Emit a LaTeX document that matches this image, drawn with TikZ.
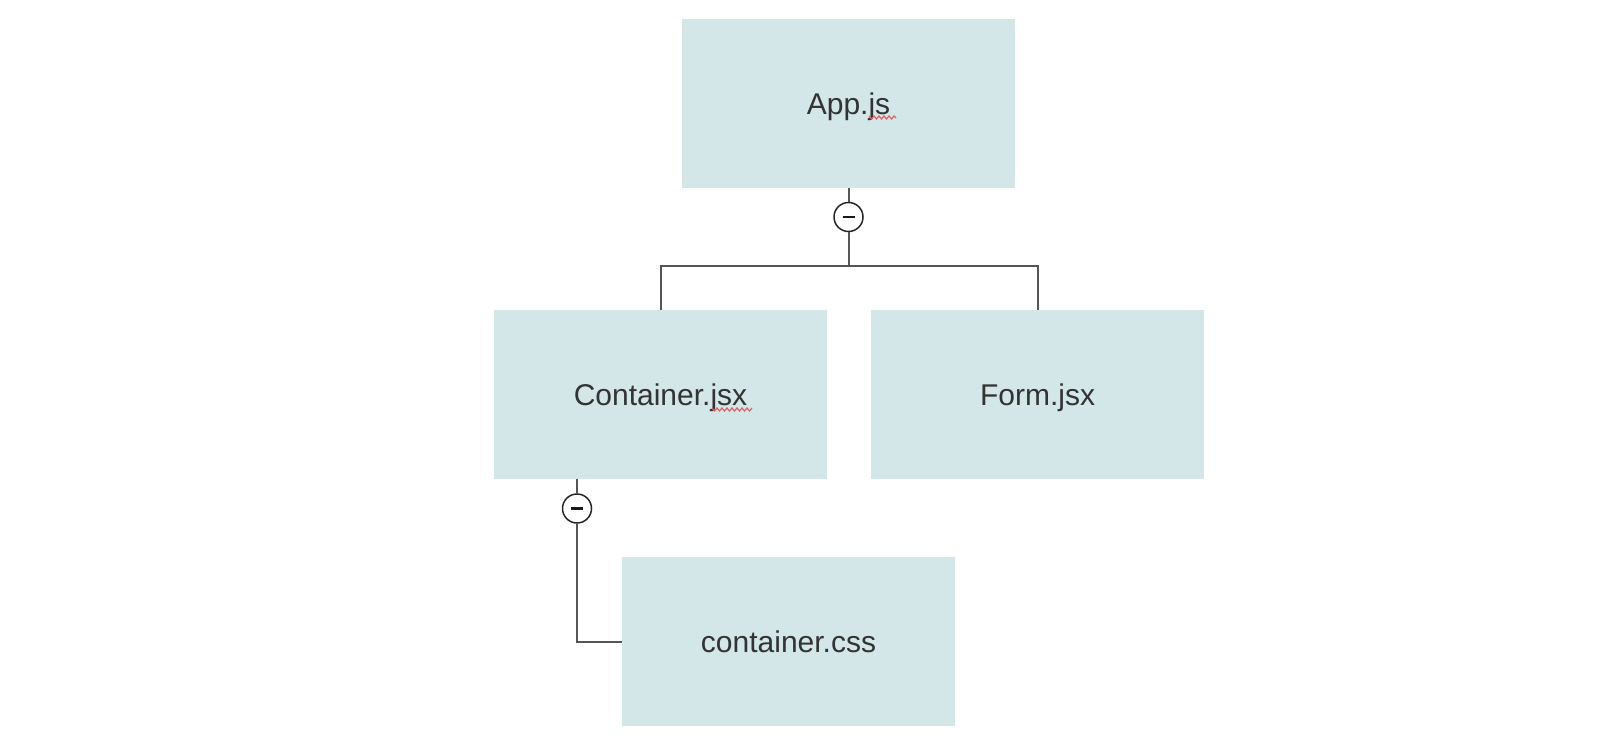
\documentclass[tikz,border=0pt]{standalone}
\usepackage{fontspec}
\setmainfont{Liberation Sans}
\definecolor{boxfill}{HTML}{D3E6E8}
\definecolor{linegray}{HTML}{555555}
\definecolor{txt}{HTML}{333333}
\definecolor{spell}{HTML}{E0605A}
\begin{document}
\begin{tikzpicture}[x=1pt,y=-1pt,
  filebox/.style={fill=boxfill,draw=none,minimum width=333pt,minimum height=169pt,inner sep=0pt,
    font=\fontsize{30}{30}\selectfont,text=txt,text height=21.5pt,text depth=0pt},
  toggle/.style={circle,draw=black!85,line width=1.5pt,fill=white,minimum size=29pt,inner sep=0pt},
  conn/.style={draw=linegray,line width=2pt},
  squiggle/.style={draw=spell,line width=1.2pt}]
\useasboundingbox (0,0) rectangle (1604,754);
\node[filebox] (app) at (848.5,103.5) {App.js};
\node[filebox] (cont) at (660.5,394.5) {Container.jsx};
\node[filebox] (form) at (1037.5,394.5) {Form.jsx};
\node[filebox] (css) at (788.5,641.5) {container.css};
\coordinate (j1) at (848.5,266);
\node[toggle] (t1) at (848.5,217) {};
\node[toggle] (t2) at (577,508.5) {};
\draw[black!90,line width=2.6pt] ([xshift=-6pt]t1.center) -- ([xshift=6pt]t1.center);
\draw[black!90,line width=2.6pt] ([xshift=-6pt]t2.center) -- ([xshift=6pt]t2.center);
\draw[conn] (app.south) -- (t1.north);
\draw[conn] (t1.south) -- (j1);
\draw[conn] (j1) -| (cont.north);
\draw[conn] (j1) -| (form.north);
\draw[conn] (t2 |- cont.south) -- (t2.north);
\draw[conn] (t2.south) |- (css.west);
% spell-check underlines
\draw[squiggle] (869,116) -- (871.5,119) -- (874,116) -- (876.5,119) -- (879,116) -- (881.5,119) -- (884,116) -- (886.5,119) -- (889,116) -- (891.5,119) -- (894,116) -- (896,118);
\draw[squiggle] (712,408) -- (714.5,411) -- (717,408) -- (719.5,411) -- (722,408) -- (724.5,411) -- (727,408) -- (729.5,411) -- (732,408) -- (734.5,411) -- (737,408) -- (739.5,411) -- (742,408) -- (744.5,411) -- (747,408) -- (749.5,411) -- (752,408);
\end{tikzpicture}
\end{document}
